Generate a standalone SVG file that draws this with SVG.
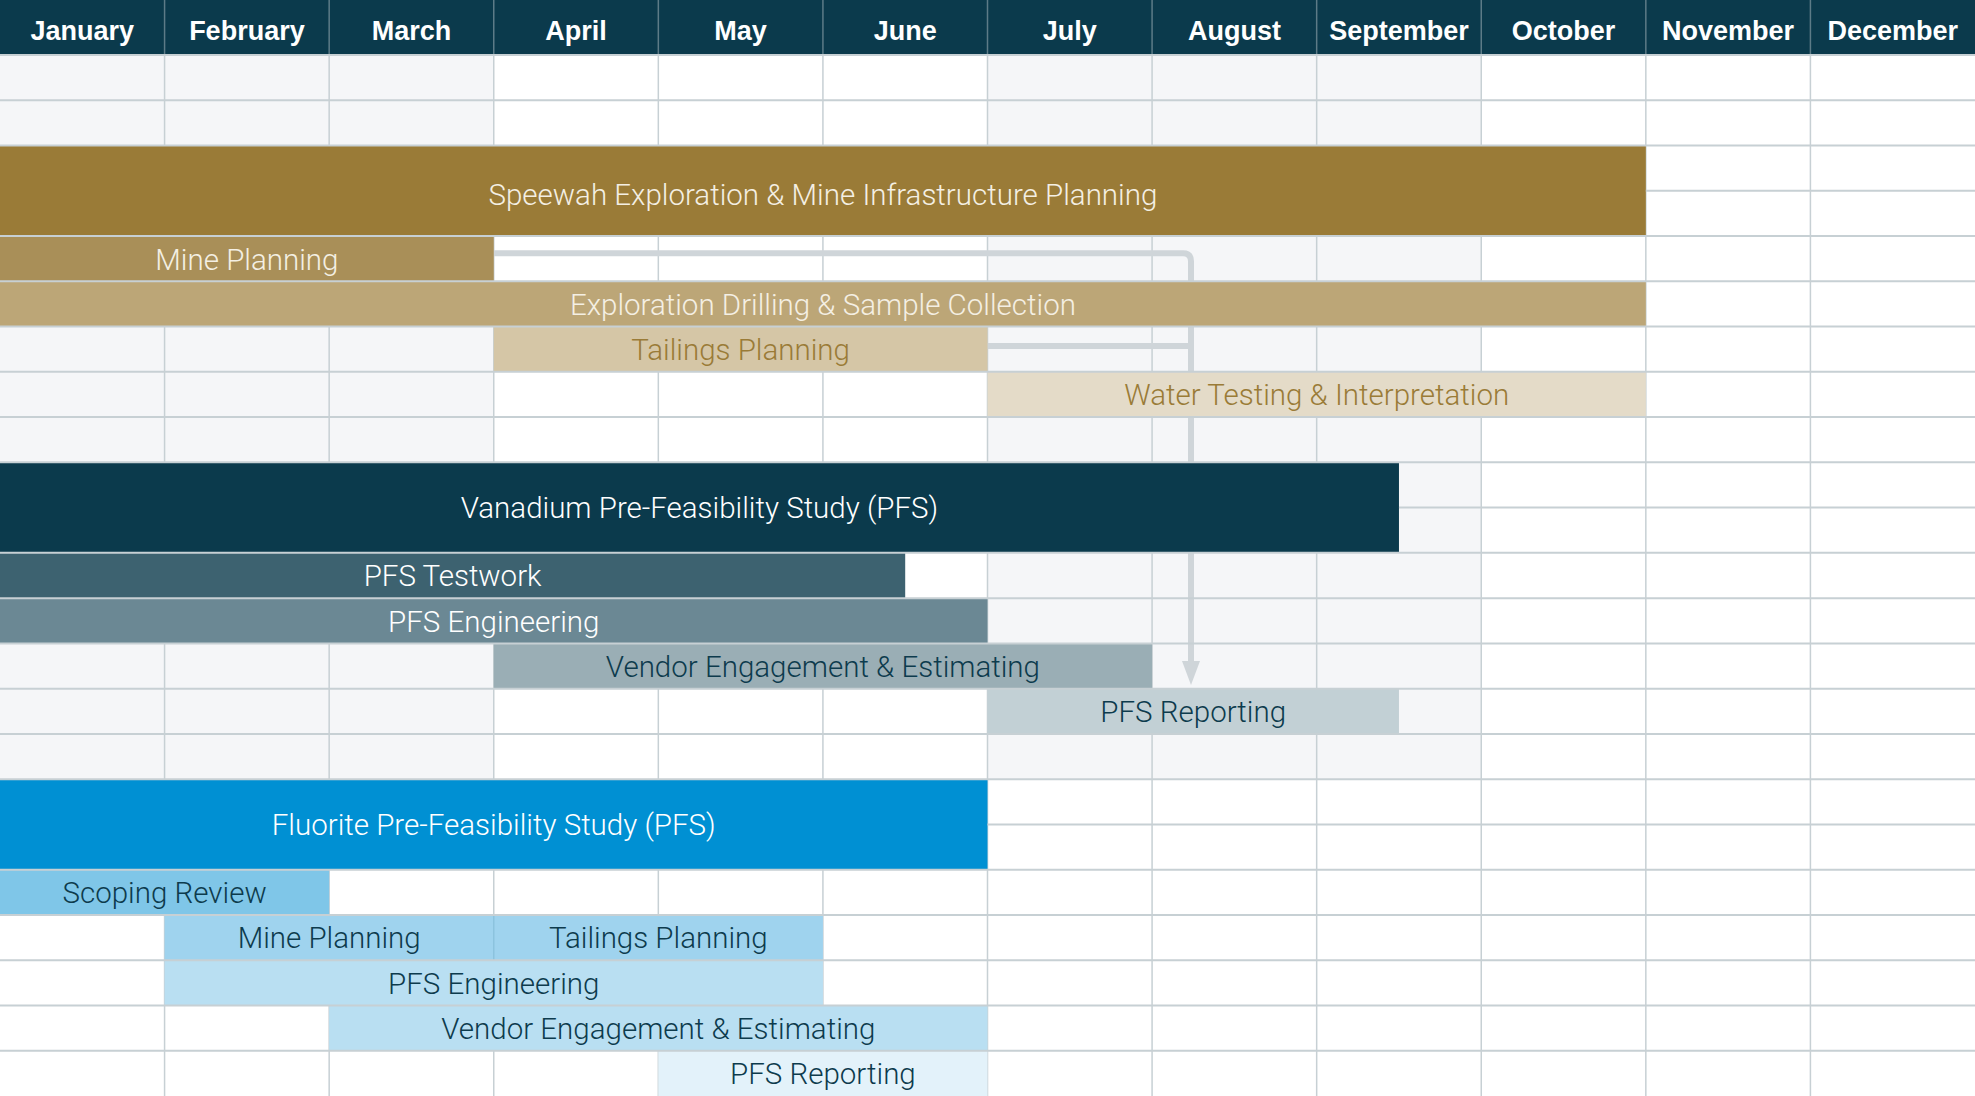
<svg xmlns="http://www.w3.org/2000/svg" width="1975" height="1096" viewBox="0 0 1975 1096">
<defs>
<style>
.hdr{font-family:"Liberation Sans",Arial,sans-serif;font-weight:bold;font-size:27px;fill:#ffffff;text-anchor:middle}
.lbl{font-family:Roboto,"Liberation Sans",Arial,sans-serif;font-weight:300;font-size:29.5px;text-anchor:middle}
.lt{fill:#f4efe3}
.br{fill:#9a7b37}
.wh{fill:#ffffff}
.dk{fill:#0d3b4d}
.gl{stroke:#c7d0d4;stroke-width:2;fill:none}
.vl{stroke:#c7d0d4;stroke-width:1.5;fill:none}
.hv{stroke:#5d7b87;stroke-width:1.5}
.cn{stroke:#cfd5d9;stroke-width:6;fill:none}
</style>
<marker id="arr" markerUnits="userSpaceOnUse" markerWidth="24" markerHeight="18" viewBox="0 0 24 18" refX="0" refY="9" orient="auto">
<path d="M0,0 L24,9 L0,18 Z" fill="#cfd5d9"/>
</marker>
</defs>

<g id="background">
<rect x="0" y="0" width="1975" height="1096" fill="#ffffff"/>
<rect x="0" y="55" width="493.75" height="724.17" fill="#f5f6f8"/>
<rect x="987.5" y="55" width="493.75" height="724.17" fill="#f5f6f8"/>
</g>

<g id="vertical-grid" class="vl">
<path d="M164.58,55V1096M329.17,55V1096M493.75,55V1096M658.33,55V1096M822.92,55V1096M987.5,55V1096M1152.08,55V1096M1316.67,55V1096M1481.25,55V1096M1645.83,55V1096M1810.42,55V1096"/>
</g>

<g id="header">
<rect x="0" y="0" width="1975" height="55" fill="#0b3a4c"/>
<path class="hv" d="M164.58,0V55M329.17,0V55M493.75,0V55M658.33,0V55M822.92,0V55M987.5,0V55M1152.08,0V55M1316.67,0V55M1481.25,0V55M1645.83,0V55M1810.42,0V55"/>
<text class="hdr" x="82.3" y="40">January</text>
<text class="hdr" x="246.9" y="40">February</text>
<text class="hdr" x="411.5" y="40">March</text>
<text class="hdr" x="576" y="40">April</text>
<text class="hdr" x="740.6" y="40">May</text>
<text class="hdr" x="905.2" y="40">June</text>
<text class="hdr" x="1069.8" y="40">July</text>
<text class="hdr" x="1234.4" y="40">August</text>
<text class="hdr" x="1399" y="40">September</text>
<text class="hdr" x="1563.5" y="40">October</text>
<text class="hdr" x="1728.1" y="40">November</text>
<text class="hdr" x="1892.7" y="40">December</text>
</g>

<g id="connectors">
<path class="cn" d="M493.75,253.3 H1183 Q1191,253.3 1191,261.3 V661" marker-end="url(#arr)"/>
<path class="cn" d="M987.5,346 H1191"/>
</g>

<g id="n-speewah">
<rect x="0" y="145.52" width="1645.83" height="90.52" fill="#9a7b37"/>
<text class="lbl lt" x="822.9" y="204.5">Speewah Exploration &amp; Mine Infrastructure Planning</text>
</g>
<g id="n-mine-planning-1">
<rect x="0" y="236.04" width="493.75" height="45.26" fill="#a98f58"/>
<text class="lbl lt" x="246.9" y="269.6">Mine Planning</text>
</g>
<g id="n-exploration">
<rect x="0" y="281.3" width="1645.83" height="45.26" fill="#bca677"/>
<text class="lbl lt" x="822.9" y="314.6">Exploration Drilling &amp; Sample Collection</text>
</g>
<g id="n-tailings-1">
<rect x="493.75" y="326.57" width="493.75" height="45.26" fill="#d5c6a6"/>
<text class="lbl br" x="740.6" y="360">Tailings Planning</text>
</g>
<g id="n-water">
<rect x="987.5" y="371.83" width="658.33" height="45.26" fill="#e4dbc8"/>
<text class="lbl br" x="1316.7" y="405.2">Water Testing &amp; Interpretation</text>
</g>

<g id="n-vanadium">
<rect x="0" y="462.35" width="1398.96" height="90.52" fill="#0b3a4c"/>
<text class="lbl wh" x="699.5" y="518.2">Vanadium Pre-Feasibility Study (PFS)</text>
</g>
<g id="n-testwork">
<rect x="0" y="552.87" width="905.2" height="45.26" fill="#3d6270"/>
<text class="lbl wh" x="452.6" y="586.3">PFS Testwork</text>
</g>
<g id="n-engineering-1">
<rect x="0" y="598.13" width="987.5" height="45.26" fill="#6b8894"/>
<text class="lbl wh" x="493.75" y="631.6">PFS Engineering</text>
</g>
<g id="n-vendor-1">
<rect x="493.75" y="643.39" width="658.33" height="45.26" fill="#9aaeb5"/>
<text class="lbl dk" x="822.9" y="676.8">Vendor Engagement &amp; Estimating</text>
</g>
<g id="n-reporting-1">
<rect x="987.5" y="688.65" width="411.46" height="45.26" fill="#c2d0d5"/>
<text class="lbl dk" x="1193.2" y="722.1">PFS Reporting</text>
</g>

<g id="n-fluorite">
<rect x="0" y="779.17" width="987.5" height="90.52" fill="#0090d3"/>
<text class="lbl wh" x="493.75" y="834.8">Fluorite Pre-Feasibility Study (PFS)</text>
</g>
<g id="n-scoping">
<rect x="0" y="869.7" width="329.17" height="45.26" fill="#7fc6e8"/>
<text class="lbl dk" x="164.6" y="903.1">Scoping Review</text>
</g>
<g id="n-mine-planning-2">
<rect x="164.58" y="914.96" width="329.17" height="45.26" fill="#9fd3ee"/>
<text class="lbl dk" x="329.2" y="948.4">Mine Planning</text>
</g>
<g id="n-tailings-2">
<rect x="493.75" y="914.96" width="329.17" height="45.26" fill="#9fd3ee"/>
<line x1="493.75" y1="914.96" x2="493.75" y2="960.22" stroke="#8cc3de" stroke-width="1.5"/>
<text class="lbl dk" x="658.3" y="948.4">Tailings Planning</text>
</g>
<g id="n-engineering-2">
<rect x="164.58" y="960.22" width="658.33" height="45.26" fill="#b9dff2"/>
<text class="lbl dk" x="493.75" y="993.6">PFS Engineering</text>
</g>
<g id="n-vendor-2">
<rect x="329.17" y="1005.48" width="658.33" height="45.26" fill="#b9dff2"/>
<text class="lbl dk" x="658.3" y="1038.9">Vendor Engagement &amp; Estimating</text>
</g>
<g id="n-reporting-2">
<rect x="658.33" y="1050.74" width="329.17" height="45.26" fill="#e3f2fa"/>
<text class="lbl dk" x="822.9" y="1084.1">PFS Reporting</text>
</g>

<g id="horizontal-grid" class="gl">
<path d="M0,55H1975M0,100.26H1975M0,145.52H1975M1645.83,190.78H1975M0,236.04H1975M0,281.3H1975M0,326.57H1975M0,371.83H1975M0,417.09H1975M0,462.35H1975M1398.96,507.61H1975M0,552.87H1975M0,598.13H1975M0,643.39H1975M0,688.65H1975M0,733.91H1975M0,779.17H1975M987.5,824.43H1975M0,869.7H1975M0,914.96H1975M0,960.22H1975M0,1005.48H1975M0,1050.74H1975"/>
</g>
</svg>
